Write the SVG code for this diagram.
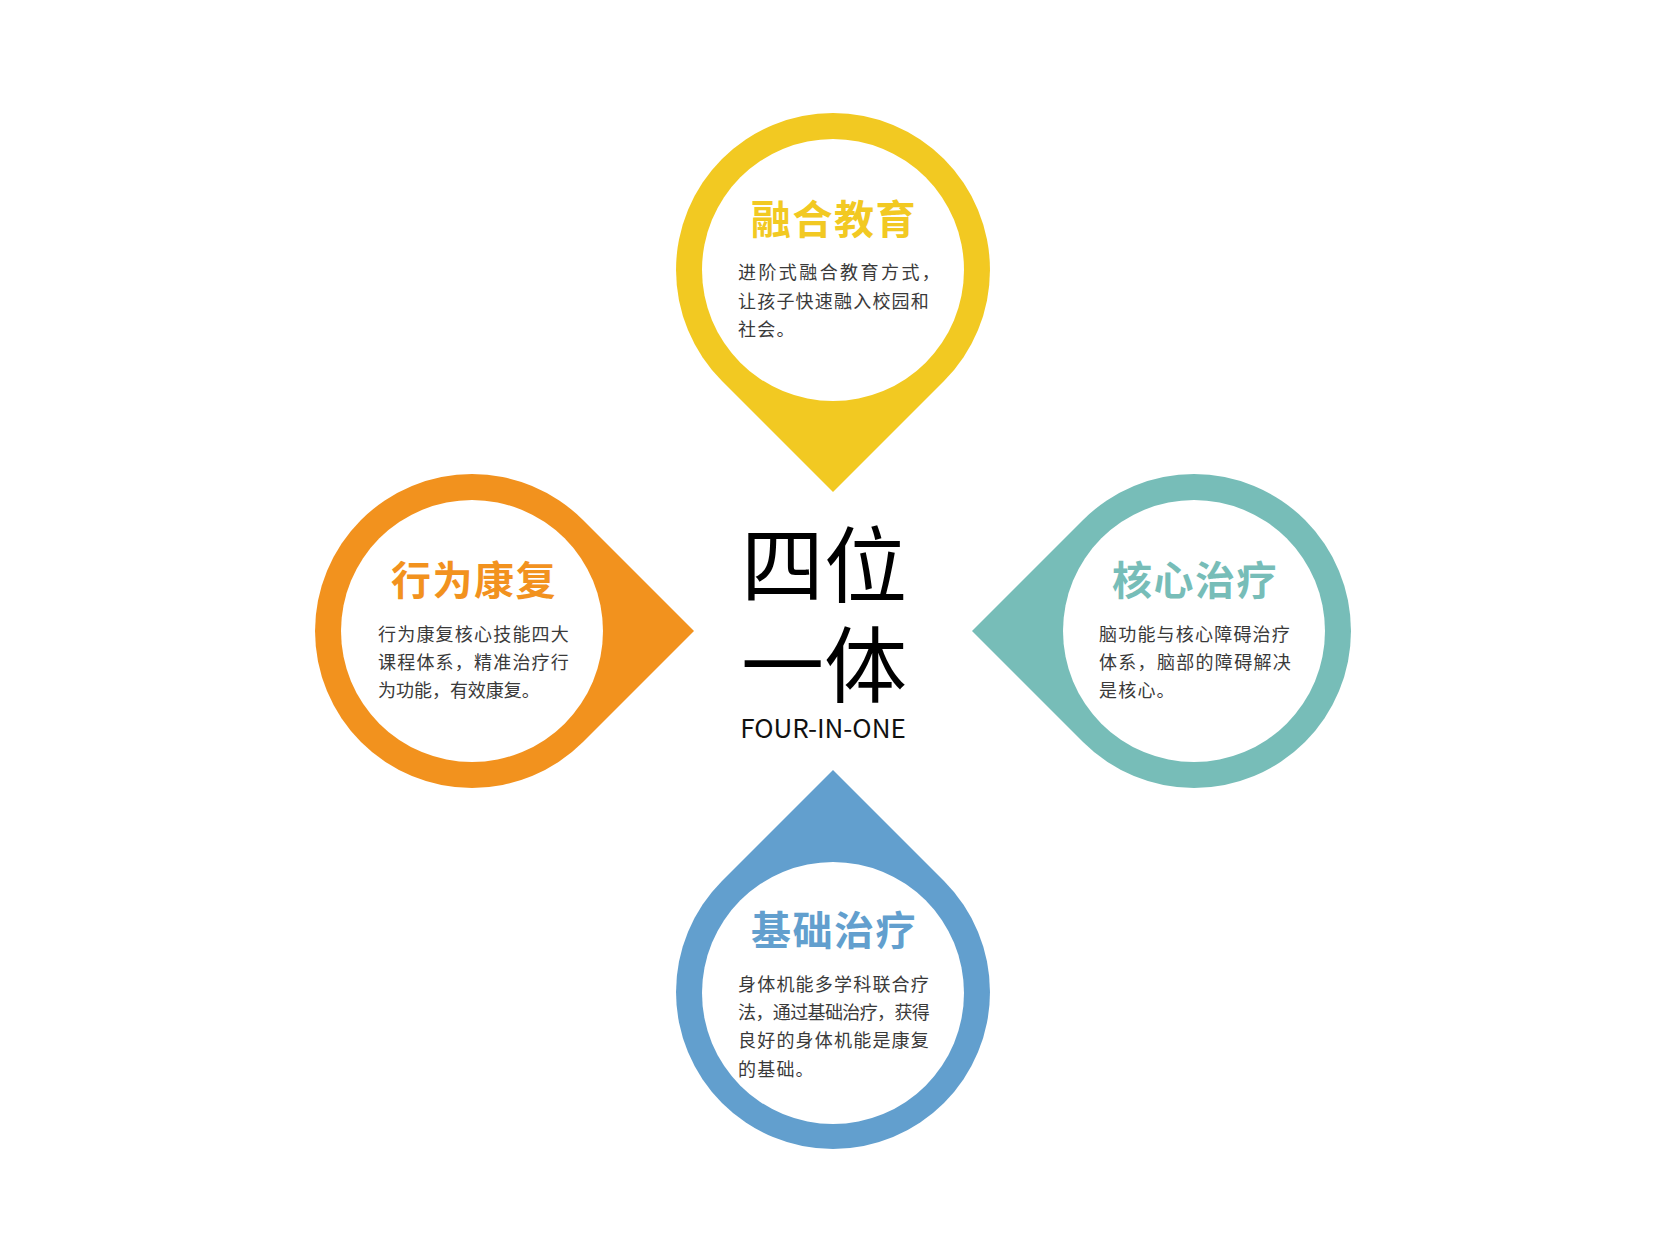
<svg xmlns="http://www.w3.org/2000/svg" xmlns:xlink="http://www.w3.org/1999/xlink" width="1667" height="1250" viewBox="0 0 1667 1250">
<style>
.title{font-family:"Noto Sans CJK SC","Noto Sans",sans-serif;font-weight:bold;font-size:40px;text-anchor:middle;letter-spacing:1.5px}
.body{font-family:"Noto Sans CJK SC","Noto Sans",sans-serif;font-size:18px;fill:#3a3a3a;letter-spacing:1.2px}
.big{font-family:"Noto Sans CJK SC",sans-serif;font-size:83px;fill:#000;text-anchor:middle}
.sub{font-size:26px;fill:#111}
.hole{fill:#fff}
</style>
<defs>
<path id="pin" d="M0,222 L111,111 A157,157 0 1 0 -111,111 Z"/>
</defs>
<rect width="1667" height="1250" fill="#fff"/>
<g id="connectors"></g>
<g id="node-yellow">
<use xlink:href="#pin" transform="translate(833,270)" fill="#F2C922"/>
<circle class="hole" cx="833" cy="270" r="131"/>
<text class="title" x="834" y="234" fill="#F2C922">融合教育</text>
<text class="body" x="738" y="279" textLength="203" lengthAdjust="spacing">进阶式融合教育方式，</text>
<text class="body" x="738" y="307.5" textLength="192" lengthAdjust="spacing">让孩子快速融入校园和</text>
<text class="body" x="738" y="336">社会。</text>
</g>
<g id="node-orange">
<use xlink:href="#pin" transform="translate(472,631) rotate(-90)" fill="#F2921E"/>
<circle class="hole" cx="472" cy="631" r="131"/>
<text class="title" x="474" y="595" fill="#F2921E">行为康复</text>
<text class="body" x="378" y="641" textLength="192" lengthAdjust="spacing">行为康复核心技能四大</text>
<text class="body" x="378" y="669" textLength="192" lengthAdjust="spacing">课程体系，精准治疗行</text>
<text class="body" x="378" y="697" textLength="163" lengthAdjust="spacing">为功能，有效康复。</text>
</g>
<g id="node-teal">
<use xlink:href="#pin" transform="translate(1194,631) rotate(90)" fill="#77BDB8"/>
<circle class="hole" cx="1194" cy="631" r="131"/>
<text class="title" x="1195" y="595" fill="#77BDB8">核心治疗</text>
<text class="body" x="1099" y="641" textLength="192" lengthAdjust="spacing">脑功能与核心障碍治疗</text>
<text class="body" x="1099" y="669" textLength="193" lengthAdjust="spacing">体系，脑部的障碍解决</text>
<text class="body" x="1099" y="697">是核心。</text>
</g>
<g id="node-blue">
<use xlink:href="#pin" transform="translate(833,992) rotate(180)" fill="#629FCE"/>
<circle class="hole" cx="833" cy="993" r="131"/>
<text class="title" x="834" y="945" fill="#629FCE">基础治疗</text>
<text class="body" x="738" y="991" textLength="192" lengthAdjust="spacing">身体机能多学科联合疗</text>
<text class="body" x="738" y="1019" textLength="193" lengthAdjust="spacing">法，通过基础治疗，获得</text>
<text class="body" x="738" y="1047" textLength="192" lengthAdjust="spacing">良好的身体机能是康复</text>
<text class="body" x="738" y="1076">的基础。</text>
</g>
<g id="node-center">
<text class="big"><tspan x="824" y="596">四位</tspan><tspan x="824" y="696">一体</tspan><tspan class="sub" x="823" y="738">FOUR-IN-ONE</tspan></text>
</g>
</svg>
